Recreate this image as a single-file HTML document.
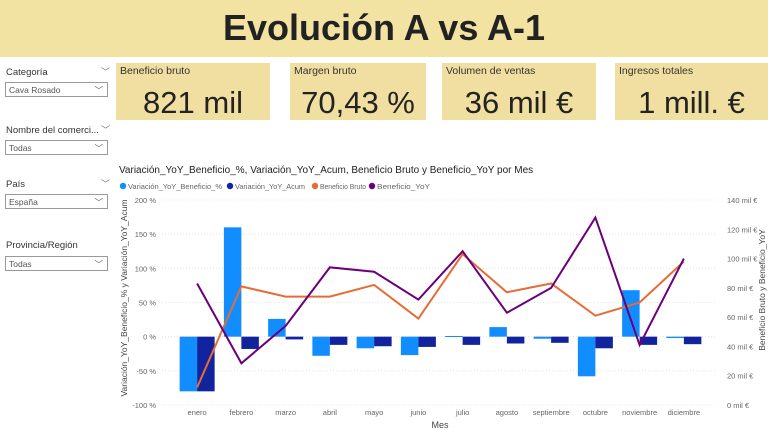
<!DOCTYPE html>
<html><head><meta charset="utf-8"><style>
body{margin:0;width:768px;height:430px;background:#fff;font-family:"Liberation Sans",sans-serif;overflow:hidden;position:relative}
.abs{position:absolute}
.band{left:0;top:0;width:768px;height:57px;background:#f2e3a2;text-align:center;font-weight:bold;font-size:36px;line-height:55px;color:#222}
.lbl{font-size:9.5px;color:#333}
.dd{width:103px;height:15px;border:1px solid #999;font-size:8.5px;color:#555;line-height:15px;padding-left:3px;box-sizing:border-box}
.chev{font-size:9px;color:#777}
.card{top:63px;height:57px;background:#f0dfa0}
.card .t{position:absolute;left:4px;top:2px;font-size:10.5px;color:#333}
.card .v{position:absolute;left:0;right:0;top:22px;text-align:center;font-size:31px;color:#222}
</style></head><body>
<div class="abs band">Evolución A vs A-1</div>

<div class="abs lbl" style="left:6px;top:67px">Categoría</div>
<div class="abs chev" style="left:101px;top:65px">﹀</div>
<div class="abs dd" style="left:5px;top:82px">Cava Rosado<span style="position:absolute;right:4px">﹀</span></div>
<div class="abs lbl" style="left:6px;top:125px">Nombre del comerci...</div>
<div class="abs chev" style="left:101px;top:123px">﹀</div>
<div class="abs dd" style="left:5px;top:140px">Todas<span style="position:absolute;right:4px">﹀</span></div>
<div class="abs lbl" style="left:6px;top:179px">País</div>
<div class="abs chev" style="left:101px;top:177px">﹀</div>
<div class="abs dd" style="left:5px;top:194px">España<span style="position:absolute;right:4px">﹀</span></div>
<div class="abs lbl" style="left:6px;top:240px">Provincia/Región</div>
<div class="abs dd" style="left:5px;top:256px">Todas<span style="position:absolute;right:4px">﹀</span></div>

<div class="abs card" style="left:116px;width:154px"><div class="t">Beneficio bruto</div><div class="v">821 mil</div></div>
<div class="abs card" style="left:290px;width:136px"><div class="t">Margen bruto</div><div class="v">70,43 %</div></div>
<div class="abs card" style="left:442px;width:154px"><div class="t">Volumen de ventas</div><div class="v">36 mil €</div></div>
<div class="abs card" style="left:615px;width:153px"><div class="t">Ingresos totales</div><div class="v">1 mill. €</div></div>

<svg class="abs" style="left:0;top:0" width="768" height="430" id="chart"></svg>
<script>
const months=["enero","febrero","marzo","abril","mayo","junio","julio","agosto","septiembre","octubre","noviembre","diciembre"];
const varBenef=[-80,160,26,-28,-17,-27,1,14,-3,-58,68,-2];
const varAcum=[-80,-18,-4,-12,-14,-15,-12,-10,-9,-17,-12,-11];
const benefBruto=[12,81,74,74,82,59,103,77,83,61,70,98];
const benefYoY=[83,28.5,54,94,91,72,105,63,80,128,41,100];
const leftTicks=[-100,-50,0,50,100,150,200];
const rightTicks=[0,20,40,60,80,100,120,140];
const NS="http://www.w3.org/2000/svg";
const svg=document.getElementById('chart');
const X0=175,BW=44.25,Y0=405,Y1=200;
const xc=i=>X0+BW*(i+0.5);
const yL=v=>Y0-(v+100)/300*(Y0-Y1);
const yR=v=>Y0-v/140*(Y0-Y1);
function mk(t,a,txt){const e=document.createElementNS(NS,t);for(const k in a)e.setAttribute(k,a[k]);if(txt!=null)e.textContent=txt;svg.appendChild(e);return e;}
let e=mk('text',{x:119,y:173,'font-size':10,fill:'#222'},'Variación_YoY_Beneficio_%, Variación_YoY_Acum, Beneficio Bruto y Beneficio_YoY por Mes');

const leg=[["Variación_YoY_Beneficio_%","#118dff",119,94],["Variación_YoY_Acum","#12239e",226,70],["Beneficio Bruto","#e66c37",311,46],["Beneficio_YoY","#6b007b",368,53]];
leg.forEach(l=>{const g=mk('g',{});
const c=document.createElementNS(NS,'circle');c.setAttribute('cx',l[2]+4);c.setAttribute('cy',186);c.setAttribute('r',3.2);c.setAttribute('fill',l[1]);g.appendChild(c);
const t=document.createElementNS(NS,'text');t.setAttribute('x',l[2]+9);t.setAttribute('y',189);t.setAttribute('font-size',7.5);t.setAttribute('fill','#666');t.setAttribute('textLength',l[3]);t.setAttribute('lengthAdjust','spacingAndGlyphs');t.textContent=l[0];g.appendChild(t);});
leftTicks.forEach(v=>{const y=yL(v);
e=mk('line',{x1:162,x2:715,y1:y,y2:y,stroke:'#ddd','stroke-dasharray':'1,2','stroke-width':0.8});
e=mk('text',{x:156,y:y+3,'font-size':7.5,fill:'#666','text-anchor':'end'},v+' %');});
rightTicks.forEach(v=>{e=mk('text',{x:727,y:yR(v)+3,'font-size':7.5,fill:'#666'},v+' mil €');});
months.forEach((m,i)=>{
e=mk('rect',{x:xc(i)-17.5,y:Math.min(yL(0),yL(varBenef[i])),width:17.5,height:Math.max(1,Math.abs(yL(varBenef[i])-yL(0))),fill:'#118dff'});
e=mk('rect',{x:xc(i),y:Math.min(yL(0),yL(varAcum[i])),width:17.5,height:Math.max(1,Math.abs(yL(varAcum[i])-yL(0))),fill:'#12239e'});
e=mk('text',{x:xc(i),y:415,'font-size':7.5,fill:'#666','text-anchor':'middle'},m);});
e=mk('polyline',{points:benefBruto.map((v,i)=>xc(i)+','+yR(v)).join(' '),fill:'none',stroke:'#e66c37','stroke-width':2});
e=mk('polyline',{points:benefYoY.map((v,i)=>xc(i)+','+yR(v)).join(' '),fill:'none',stroke:'#6b007b','stroke-width':2});
e=mk('text',{x:440,y:428,'font-size':9,fill:'#444','text-anchor':'middle'},'Mes');
e=mk('text',{x:0,y:0,'font-size':8.5,fill:'#444','text-anchor':'middle',transform:'translate(127,298) rotate(-90)'},'Variación_YoY_Beneficio_% y Variación_YoY_Acum');
e=mk('text',{x:0,y:0,'font-size':8.5,fill:'#444','text-anchor':'middle',transform:'translate(765,290) rotate(-90)'},'Beneficio Bruto y Beneficio_YoY');
</script>
</body></html>
